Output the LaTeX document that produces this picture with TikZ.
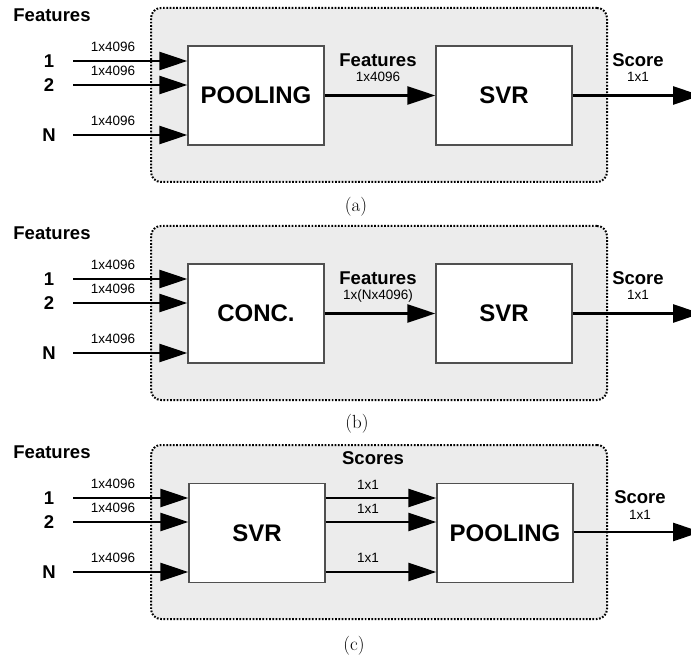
\documentclass[tikz,border=0pt]{standalone}
\usepackage{fontspec}
\newfontfamily\lab{Liberation Sans}
\usetikzlibrary{arrows.meta}
\definecolor{panelgray}{RGB}{236,236,236}
\definecolor{boxgray}{RGB}{80,80,80}

\tikzset{
  panel/.style={draw, fill=panelgray, line width=2pt, dash pattern=on 1.7pt off 1.6pt,
    rounded corners=10pt, minimum width=456pt, minimum height=174pt, anchor=north west, inner sep=0},
  block/.style={draw=boxgray, fill=white, line width=1.3pt, minimum width=136pt,
    minimum height=99pt, inner sep=0, font=\lab\bfseries\fontsize{24}{24}\selectfont},
  flow/.style={line width=2.6pt, -{Triangle[length=28pt,width=18pt]}},
  head/.style={font=\lab\bfseries\fontsize{18.5}{18.5}\selectfont, inner sep=0, text depth=0pt},
  dim/.style={font=\lab\fontsize{13.5}{13.5}\selectfont, inner sep=0, text depth=0pt},
  caption/.style={font=\fontsize{19}{19}\selectfont, inner sep=0},
}

\begin{document}
\begin{tikzpicture}[x=1pt, y=-1pt]
\useasboundingbox (0,0) rectangle (691,660);

% ---------------- (a) pooling then SVR ----------------
\node[panel] (a-frame) at (150,7) {};
\node[head] (a-feat) at (52,15) {Features};
\node[head] (a-n1) at (49,61) {1};
\node[head] (a-n2) at (49,85) {2};
\node[head] (a-nN) at (49,135) {N};
\coordinate (a-s1) at (73,61);
\coordinate (a-s2) at (73,85);
\coordinate (a-sN) at (73,135);
\node[block] (a-pool) at (256,95.5) {POOLING};
\node[block] (a-svr) at (504,95.5) {SVR};
\draw[flow] (a-s1) -- (a-s1 -| a-pool.west);
\draw[flow] (a-s2) -- (a-s2 -| a-pool.west);
\draw[flow] (a-sN) -- (a-sN -| a-pool.west);
\node[dim] at (113,47) {1x4096};
\node[dim] at (113,71) {1x4096};
\node[dim] at (113,121) {1x4096};
\draw[flow] (a-pool.east) -- (a-svr.west);
\node[head] at (378,60) {Features};
\node[dim] at (378,77) {1x4096};
\coordinate (a-out) at (701,95.5);
\draw[flow] (a-svr.east) -- (a-out);
\node[head] at (638,60) {Score};
\node[dim] at (638,77) {1x1};
\node[caption] at (356,207) {(a)};

% ---------------- (b) concatenation then SVR ----------------
\node[panel] (b-frame) at (150,225) {};
\node[head] (b-feat) at (52,233) {Features};
\node[head] (b-n1) at (49,279) {1};
\node[head] (b-n2) at (49,303) {2};
\node[head] (b-nN) at (49,353) {N};
\coordinate (b-s1) at (73,279);
\coordinate (b-s2) at (73,303);
\coordinate (b-sN) at (73,353);
\node[block] (b-conc) at (256,313.5) {CONC.};
\node[block] (b-svr) at (504,313.5) {SVR};
\draw[flow] (b-s1) -- (b-s1 -| b-conc.west);
\draw[flow] (b-s2) -- (b-s2 -| b-conc.west);
\draw[flow] (b-sN) -- (b-sN -| b-conc.west);
\node[dim] at (113,265) {1x4096};
\node[dim] at (113,289) {1x4096};
\node[dim] at (113,339) {1x4096};
\draw[flow] (b-conc.east) -- (b-svr.west);
\node[head] at (378,278) {Features};
\node[dim] at (378,295) {1x(Nx4096)};
\coordinate (b-out) at (701,313.5);
\draw[flow] (b-svr.east) -- (b-out);
\node[head] at (638,278) {Score};
\node[dim] at (638,295) {1x1};
\node[caption] at (357,424) {(b)};

% ---------------- (c) SVR per feature then pooling ----------------
\node[panel] (c-frame) at (150,444) {};
\node[head] (c-feat) at (52,452) {Features};
\node[head] (c-n1) at (49,498) {1};
\node[head] (c-n2) at (49,522) {2};
\node[head] (c-nN) at (49,572) {N};
\coordinate (c-s1) at (73,498);
\coordinate (c-s2) at (73,522);
\coordinate (c-sN) at (73,572);
\node[block] (c-svr) at (257,533) {SVR};
\node[block] (c-pool) at (505,533) {POOLING};
\draw[flow] (c-s1) -- (c-s1 -| c-svr.west);
\draw[flow] (c-s2) -- (c-s2 -| c-svr.west);
\draw[flow] (c-sN) -- (c-sN -| c-svr.west);
\node[dim] at (113,484) {1x4096};
\node[dim] at (113,508) {1x4096};
\node[dim] at (113,558) {1x4096};
\node[head] at (373,458) {Scores};
\draw[flow] (c-s1 -| c-svr.east) -- (c-s1 -| c-pool.west);
\draw[flow] (c-s2 -| c-svr.east) -- (c-s2 -| c-pool.west);
\draw[flow] (c-sN -| c-svr.east) -- (c-sN -| c-pool.west);
\node[dim] at (368,485) {1x1};
\node[dim] at (368,509) {1x1};
\node[dim] at (368,558) {1x1};
\coordinate (c-out) at (701,532);
\draw[flow] (c-pool.east |- c-out) -- (c-out);
\node[head] at (640,497) {Score};
\node[dim] at (640,515) {1x1};
\node[caption] at (354,646) {(c)};
\end{tikzpicture}
\end{document}
